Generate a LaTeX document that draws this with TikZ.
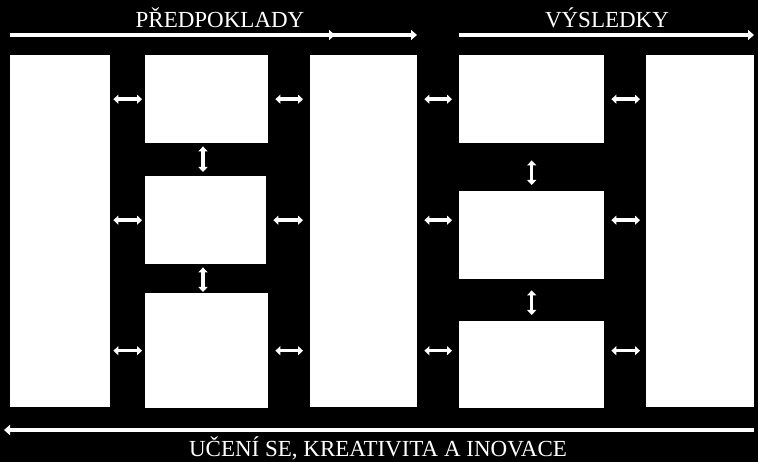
\documentclass[tikz,border=0pt]{standalone}
\usepackage{fontspec}
\setmainfont{Liberation Serif}
\usetikzlibrary{arrows.meta}
\begin{document}
\begin{tikzpicture}
    [ x=1pt, y=-1pt,
      font={\fontsize{23}{23}\selectfont},
      panel/.style={fill=white, inner sep=0pt, anchor=north west},
      link/.style={white, line width=3.5pt, {Triangle[length=5pt,width=9pt]}-{Triangle[length=5pt,width=9pt]}},
      flow/.style={white, line width=4pt, -{Triangle[length=6pt,width=10pt]}},
      caption/.style={text=white, inner sep=0pt}
    ]
    \fill[black] (0, 0) rectangle (758, 462);

    % Columns
    \node[panel, minimum width=100pt, minimum height=352pt] (a) at (10, 55) {};
    \node[panel, minimum width=123pt, minimum height=88pt] (b1) at (145, 55) {};
    \node[panel, minimum width=121pt, minimum height=88pt] (b2) at (145, 176) {};
    \node[panel, minimum width=123pt, minimum height=115pt] (b3) at (145, 293) {};
    \node[panel, minimum width=107pt, minimum height=352pt] (c) at (310, 55) {};
    \node[panel, minimum width=145pt, minimum height=88pt] (d1) at (459, 55) {};
    \node[panel, minimum width=145pt, minimum height=88pt] (d2) at (459, 191) {};
    \node[panel, minimum width=145pt, minimum height=87pt] (d3) at (459, 321) {};
    \node[panel, minimum width=108pt, minimum height=352pt] (e) at (646, 55) {};

    % Links between columns
    \foreach \r in {b1, b2, b3} {
        \draw[link, shorten <=3pt, shorten >=3pt] (a.east |- \r) -- (\r.west);
        \draw[link, shorten <=7pt, shorten >=7pt] (\r.east) -- (c.west |- \r);
        \draw[link, shorten <=7pt, shorten >=7pt] (c.east |- \r) -- (d1.west |- \r);
        \draw[link, shorten <=7pt, shorten >=6pt] (d1.east |- \r) -- (e.west |- \r);
    }
    \draw[link, shorten <=3pt, shorten >=4pt] (b1.south -| 203, 0) -- (b2.north -| 203, 0);
    \draw[link, shorten <=3pt, shorten >=1pt] (b2.south -| 203, 0) -- (b3.north -| 203, 0);
    \draw[link, shorten <=17pt, shorten >=6pt] (d1.south) -- (d2.north);
    \draw[link, shorten <=11pt, shorten >=6pt] (d2.south) -- (d3.north);

    % Flows
    \coordinate (p0) at (10, 35);
    \coordinate (p1) at (335, 35);
    \coordinate (p2) at (417, 35);
    \coordinate (v0) at (459, 35);
    \coordinate (v1) at (754, 35);
    \coordinate (u0) at (754, 430);
    \coordinate (u1) at (4, 430);
    \draw[flow] (p0) -- (p1);
    \draw[flow] (p0) -- (p2);
    \draw[flow] (v0) -- (v1);
    \draw[flow] (u0) -- (u1);

    % Captions
    \node[caption] (tp) at (220, 18) {PŘEDPOKLADY};
    \node[caption] (tv) at (607, 18) {VÝSLEDKY};
    \node[caption] (tu) at (378, 448) {UČENÍ SE, KREATIVITA A INOVACE};
\end{tikzpicture}
\end{document}
